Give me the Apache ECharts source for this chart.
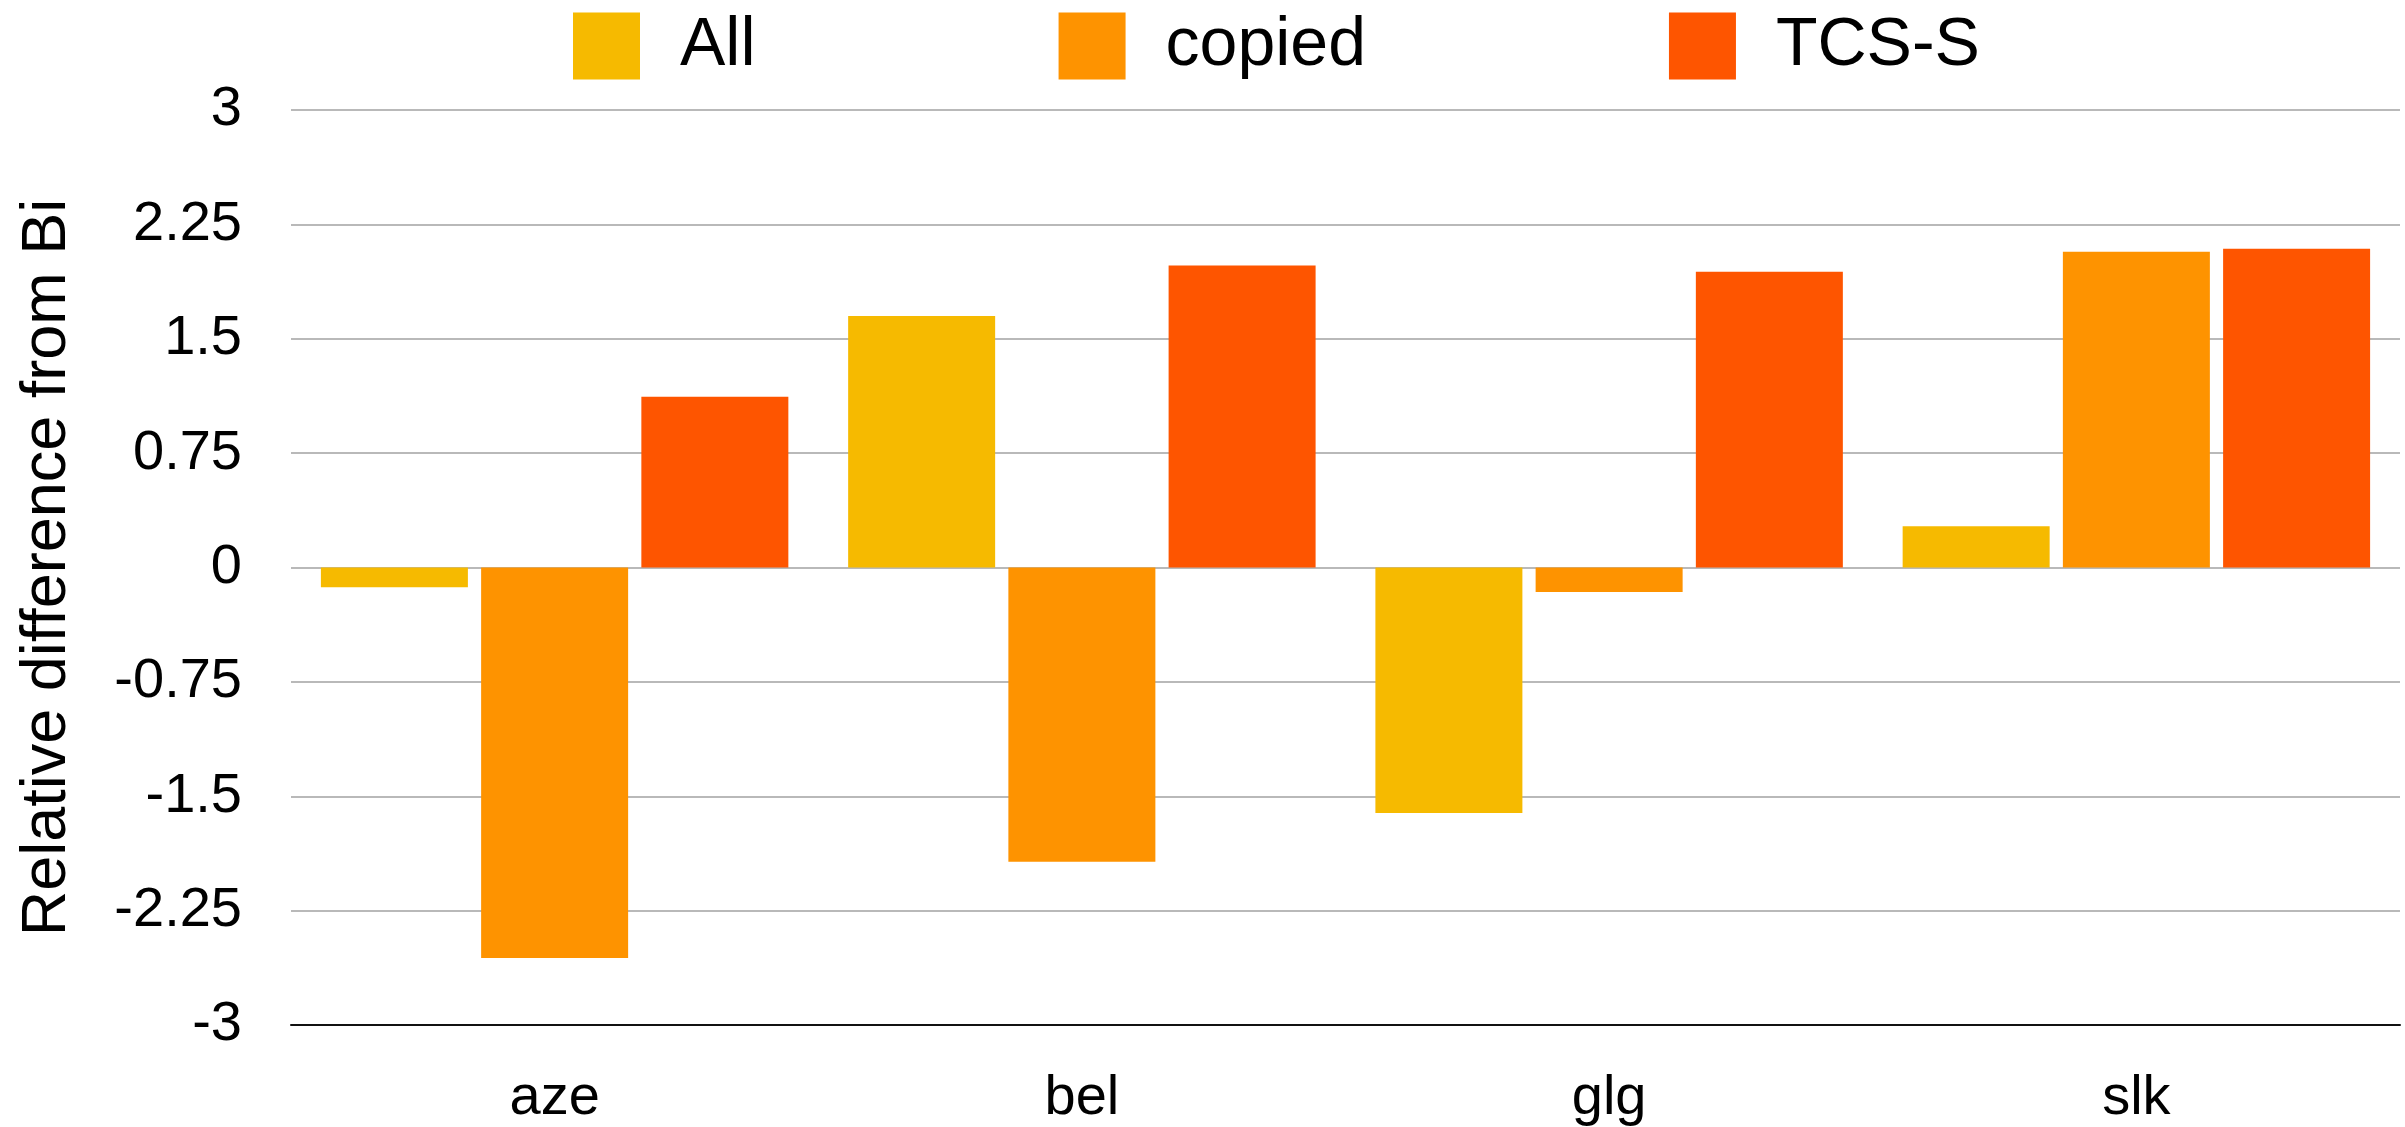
<!DOCTYPE html>
<html>
<head>
<meta charset="utf-8">
<script src="https://cdn.jsdelivr.net/npm/echarts@6/dist/echarts.min.js"></script>
<style>
html,body{margin:0;padding:0;background:#fff;}
#chart{width:2405px;height:1127px;}
</style>
</head>
<body>
<div id="chart"></div>
<script>
var categories = ['aze', 'bel', 'glg', 'slk'];
var seriesNames = ['All', 'copied', 'TCS-S'];
var allValues = [-0.13, 1.65, -1.61, 0.27];
var copiedValues = [-2.56, -1.93, -0.16, 2.07];
var tcsValues = [1.12, 1.98, 1.94, 2.09];
var yTicks = [-3, -2.25, -1.5, -0.75, 0, 0.75, 1.5, 2.25, 3];
var colors = ['#F6BA00', '#FE9300', '#FE5500'];
var FONT = 'Liberation Sans';

var chart = echarts.init(document.getElementById('chart'));
var seriesData = [allValues, copiedValues, tcsValues];
chart.setOption({
  animation: false,
  color: colors,
  legend: {
    data: seriesNames,
    left: 573,
    top: 12,
    padding: 0,
    itemWidth: 67,
    itemHeight: 67,
    itemGap: 303,
    icon: 'rect',
    textStyle: { fontFamily: FONT, fontSize: 68, lineHeight: 67, color: '#000', padding: [0, 0, 0, 35] }
  },
  grid: { left: 291, right: 5, top: 110, bottom: 101, containLabel: false },
  xAxis: {
    type: 'category',
    data: categories,
    axisTick: { show: false },
    axisLine: { onZero: false, lineStyle: { color: '#111', width: 2 } },
    axisLabel: { fontFamily: FONT, fontSize: 56, color: '#000', margin: 46 }
  },
  yAxis: {
    type: 'value',
    min: yTicks[0],
    max: yTicks[yTicks.length - 1],
    interval: 0.75,
    name: 'Relative difference from Bi',
    nameLocation: 'middle',
    nameGap: 212,
    nameTextStyle: { fontFamily: FONT, fontSize: 63, color: '#000' },
    axisLine: { show: false },
    axisTick: { show: false },
    splitLine: { lineStyle: { color: '#b9b9b9', width: 2 } },
    axisLabel: { fontFamily: FONT, fontSize: 56, color: '#000', margin: 49 }
  },
  series: seriesNames.map(function (n, i) {
    return {
      name: n,
      type: 'bar',
      data: seriesData[i],
      barWidth: 147,
      barGap: '9%',
      itemStyle: { color: colors[i] }
    };
  })
});
</script>
</body>
</html>
